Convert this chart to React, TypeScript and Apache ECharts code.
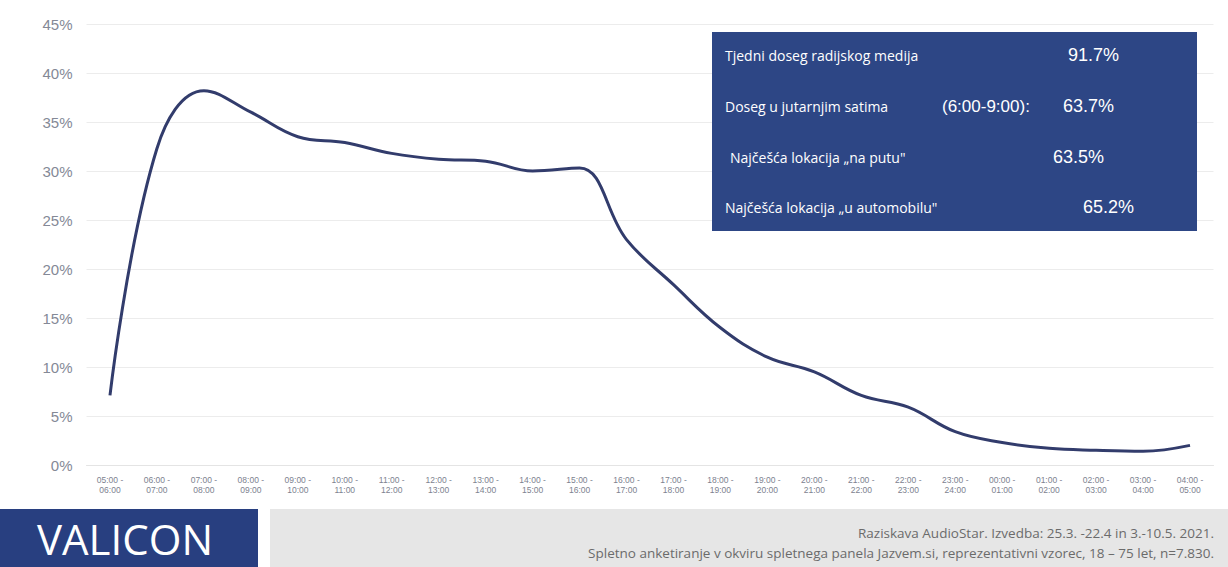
import React, { useEffect, useRef } from "react";
import * as echarts from "echarts";

const categories: string[] = [
  "05:00 -\n06:00", "06:00 -\n07:00", "07:00 -\n08:00", "08:00 -\n09:00",
  "09:00 -\n10:00", "10:00 -\n11:00", "11:00 -\n12:00", "12:00 -\n13:00",
  "13:00 -\n14:00", "14:00 -\n15:00", "15:00 -\n16:00", "16:00 -\n17:00",
  "17:00 -\n18:00", "18:00 -\n19:00", "19:00 -\n20:00", "20:00 -\n21:00",
  "21:00 -\n22:00", "22:00 -\n23:00", "23:00 -\n24:00", "00:00 -\n01:00",
  "01:00 -\n02:00", "02:00 -\n03:00", "03:00 -\n04:00", "04:00 -\n05:00",
];

const reach: number[] = [
  7.1, 32.3, 38.2, 36.0, 33.5, 32.9, 31.8, 31.2, 31.0, 30.0, 30.3, 23.0,
  18.4, 14.0, 11.0, 9.5, 7.1, 5.9, 3.4, 2.3, 1.7, 1.5, 1.4, 2.0,
];

const infoLabels: string[] = [
  "Tjedni doseg radijskog medija",
  "Doseg u jutarnjim satima",
  "Najčešća lokacija „na putu\"",
  "Najčešća lokacija „u automobilu\"",
];
const infoValues: string[] = ["91.7%", "63.7%", "63.5%", "65.2%"];
const footerLines: string[] = [
  "Raziskava AudioStar. Izvedba: 25.3. -22.4 in 3.-10.5. 2021.",
  "Spletno anketiranje v okviru spletnega panela Jazvem.si, reprezentativni vzorec, 18 – 75 let, n=7.830.",
];
const brand = "VALICON";

export default function App() {
  const ref = useRef<HTMLDivElement>(null);
  useEffect(() => {
    document.body.style.margin = "0";
    const chart = echarts.init(ref.current!, undefined, { renderer: "svg" });
    const white = "#ffffff";
    const rowY = [55, 106, 157, 207];
    const labelX = [725, 725, 730, 725];
    const valueX = [1068, 1063, 1053, 1083];
    const graphics: any[] = [
      {
        type: "rect",
        shape: { x: 712, y: 32, width: 485, height: 199 },
        style: { fill: "#2d4685" },
        z: 10,
      },
    ];
    infoLabels.forEach((t, i) => {
      graphics.push({
        type: "text",
        x: labelX[i],
        y: rowY[i],
        style: {
          text: t,
          fill: white,
          font: "14px 'Open Sans', 'Liberation Sans', sans-serif",
          textVerticalAlign: "middle",
        },
        z: 11,
      });
      graphics.push({
        type: "text",
        x: valueX[i],
        y: rowY[i],
        style: {
          text: infoValues[i],
          fill: white,
          font: "18px 'Liberation Sans', Arial, sans-serif",
          textVerticalAlign: "middle",
        },
        z: 11,
      });
    });
    graphics.push({
      type: "text",
      x: 942,
      y: rowY[1],
      style: {
        text: "(6:00-9:00):",
        fill: white,
        font: "17px 'Liberation Sans', Arial, sans-serif",
        textVerticalAlign: "middle",
      },
      z: 11,
    });
    // footer
    graphics.push({
      type: "rect",
      shape: { x: 0, y: 509, width: 258, height: 58 },
      style: { fill: "#283f80" },
    });
    graphics.push({
      type: "text",
      x: 125,
      y: 538,
      style: {
        text: brand,
        fill: white,
        font: "42px 'Open Sans', 'Liberation Sans', sans-serif",
        textAlign: "center",
        textVerticalAlign: "middle",
      },
    });
    graphics.push({
      type: "rect",
      shape: { x: 270, y: 509, width: 958, height: 58 },
      style: { fill: "#e6e6e6" },
    });
    footerLines.forEach((t, i) => {
      graphics.push({
        type: "text",
        x: 1214,
        y: 533 + i * 20,
        style: {
          text: t,
          fill: "#6b6b6b",
          font: "13.5px 'Open Sans', 'Liberation Sans', sans-serif",
          textAlign: "right",
          textVerticalAlign: "middle",
        },
      });
    });

    chart.setOption({
      animation: false,
      backgroundColor: "#ffffff",
      grid: { left: 86.5, right: 14.5, top: 24, bottom: 102 },
      xAxis: {
        type: "category",
        data: categories,
        boundaryGap: true,
        axisLine: { show: true, lineStyle: { color: "#e4e4e4", width: 1 } },
        axisTick: { show: false },
        axisLabel: {
          interval: 0,
          color: "#7d828f",
          fontSize: 8.5,
          lineHeight: 10,
          margin: 10,
          fontFamily: "'Liberation Sans', Arial, sans-serif",
        },
      },
      yAxis: {
        type: "value",
        min: 0,
        max: 45,
        interval: 5,
        axisLine: { show: false },
        axisTick: { show: false },
        splitLine: { lineStyle: { color: "#ececec", width: 1 } },
        axisLabel: {
          formatter: "{value}%",
          color: "#848996",
          fontSize: 15,
          margin: 14,
          fontFamily: "'Liberation Sans', Arial, sans-serif",
        },
      },
      series: [
        {
          type: "line",
          data: reach,
          smooth: 0.4,
          showSymbol: false,
          lineStyle: { color: "#323c6c", width: 3 },
        },
      ],
      graphic: graphics,
    });
    return () => chart.dispose();
  }, []);
  return (
    <div
      ref={ref}
      style={{ position: "fixed", left: 0, top: 0, width: 1228, height: 567 }}
    />
  );
}
